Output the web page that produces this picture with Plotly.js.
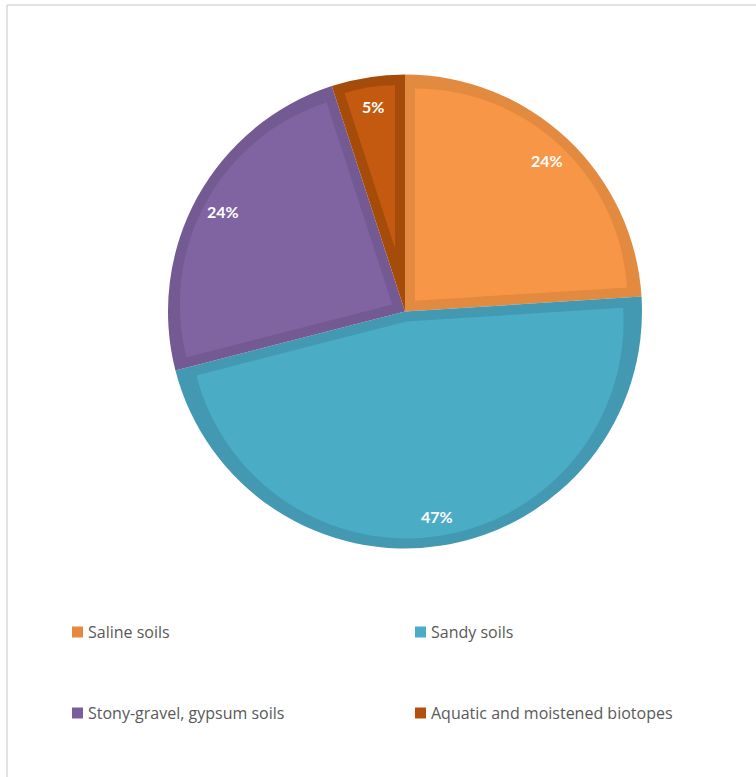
<!DOCTYPE html>
<html>
<head>
<meta charset="utf-8">
<script src="https://cdn.plot.ly/plotly-3.0.1.min.js"></script>
<style>html,body{margin:0;padding:0;background:#fff;}#chart{width:756px;height:777px;}</style>
</head>
<body>
<div id="chart"></div>
<script>
// Data
var categories = ["Saline soils", "Sandy soils", "Stony-gravel, gypsum soils", "Aquatic and moistened biotopes"];
var values = [24, 47, 24, 5];
var labelsText = ["24%", "47%", "24%", "5%"];
var fillColors = ["#F79646", "#4BACC6", "#8064A2", "#C45A10"];
var borderColors = ["#E28A40", "#4499B2", "#735A93", "#A64C0B"];
var legendColors = ["#E8883E", "#4BACC6", "#7A5E9B", "#B2500C"];

// Layout constants (pixels)
var W = 756, H = 777;
var CX = 405, CY = 311.5, R = 237, INSET = 10;
function px(x){ return x / W; }
function py(y){ return 1 - y / H; }
function dom(s){ return { x: [px(CX - s), px(CX + s)], y: [py(CY + s), py(CY - s)] }; }

var total = values.reduce(function(a,b){return a+b;}, 0);

// Base pie: full slices in the darker border colour
var traces = [{
  type: "pie",
  values: values,
  labels: categories,
  sort: false,
  direction: "clockwise",
  rotation: 0,
  textinfo: "none",
  hoverinfo: "label+percent",
  marker: { colors: borderColors, line: { width: 0 } },
  domain: dom(R)
}];

// Inner (inset) wedge for every slice, giving each slice its own inner border
var cumStart = 0;
for (var k = 0; k < values.length; k++) {
  var theta = values[k] / total * 2 * Math.PI;
  var half = theta / 2;
  var off = INSET / Math.sin(half);
  var S = R - INSET;
  var rInner = S - off;
  traces.push({
    type: "pie",
    values: [values[k], total - values[k]],
    labels: [categories[k], "rest"],
    sort: false,
    direction: "clockwise",
    rotation: cumStart / total * 360,
    pull: [off / rInner, 0],
    textinfo: "none",
    hoverinfo: "skip",
    showlegend: false,
    marker: { colors: [fillColors[k], "rgba(0,0,0,0)"], line: { width: 0 } },
    domain: dom(S)
  });
  cumStart += values[k];
}

// Data labels placed near outer end of each slice
var annotations = [];
var cum = 0;
var rLab = 0.875 * R;
for (var i = 0; i < values.length; i++) {
  var mid = (cum + values[i] / 2) / total * 2 * Math.PI;
  cum += values[i];
  var lx = CX + rLab * Math.sin(mid);
  var ly = CY - rLab * Math.cos(mid);
  annotations.push({
    xref: "paper", yref: "paper", x: px(lx), y: py(ly),
    xanchor: "center", yanchor: "middle", showarrow: false,
    text: "<b>" + labelsText[i] + "</b>",
    font: { family: "Lato, 'Open Sans', sans-serif", size: 16, color: "#FFFFFF" }
  });
}

// Legend (2 columns x 2 rows)
var shapes = [];
var legX = [72, 415], legY = [632, 713], sq = 11;
for (var j = 0; j < categories.length; j++) {
  var col = j % 2, row = Math.floor(j / 2);
  var x0 = legX[col], yc = legY[row];
  shapes.push({
    type: "rect", xref: "paper", yref: "paper",
    x0: px(x0), x1: px(x0 + sq), y0: py(yc + sq / 2), y1: py(yc - sq / 2),
    fillcolor: legendColors[j], line: { width: 0 }
  });
  annotations.push({
    xref: "paper", yref: "paper", x: px(x0 + sq + 3), y: py(yc),
    xanchor: "left", yanchor: "middle", showarrow: false,
    text: categories[j],
    font: { family: "'Open Sans', Lato, sans-serif", size: 16, color: "#595959" }
  });
}

// Chart frame (left and top edges visible)
shapes.push({ type: "line", xref: "paper", yref: "paper", x0: px(7), x1: px(7), y0: 0, y1: py(5), line: { color: "#D9D9D9", width: 1.5 } });
shapes.push({ type: "line", xref: "paper", yref: "paper", x0: px(7), x1: 1, y0: py(5), y1: py(5), line: { color: "#D9D9D9", width: 1.5 } });

// Cropped glyph at the very top-left
annotations.push({
  xref: "paper", yref: "paper", x: px(0), y: py(-13),
  xanchor: "left", yanchor: "middle", showarrow: false,
  text: "g", font: { family: "'Liberation Serif', serif", size: 20, color: "#000" }
});

var layout = {
  width: W, height: H,
  margin: { l: 0, r: 0, t: 0, b: 0 },
  paper_bgcolor: "#FFFFFF",
  showlegend: false,
  annotations: annotations,
  shapes: shapes
};

Plotly.newPlot("chart", traces, layout, { displayModeBar: false, staticPlot: true });
</script>
</body>
</html>
